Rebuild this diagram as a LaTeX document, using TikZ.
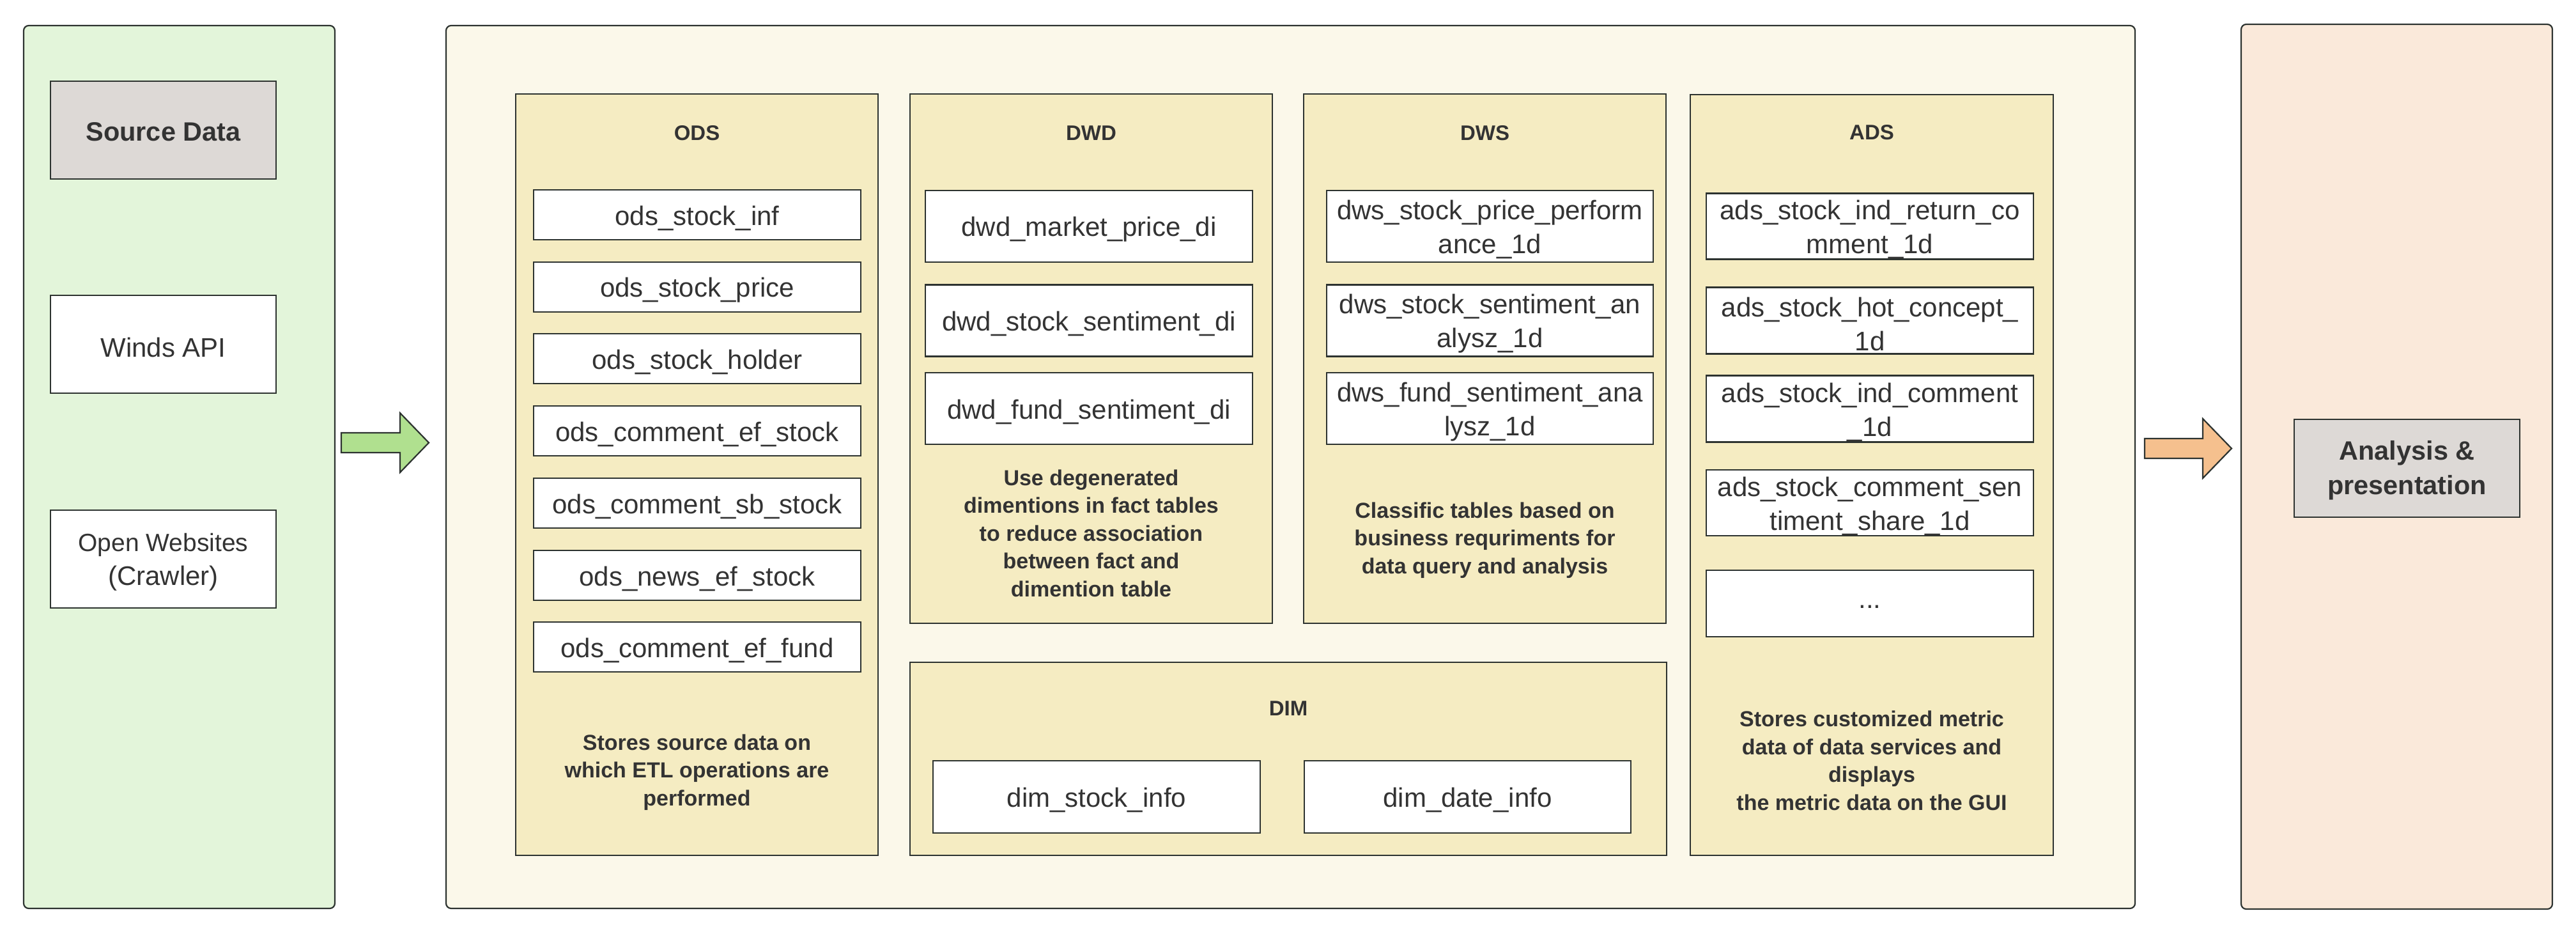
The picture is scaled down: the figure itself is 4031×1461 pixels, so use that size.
\documentclass[tikz,border=0pt]{standalone}
\usepackage{fontspec}
\setmainfont{Liberation Sans}
\definecolor{linec}{HTML}{2D3330}
\definecolor{txt}{HTML}{333333}
\definecolor{greenpanel}{HTML}{E3F5DA}
\definecolor{midpanel}{HTML}{FBF8EA}
\definecolor{rightpanel}{HTML}{FAE9DA}
\definecolor{layerfill}{HTML}{F5ECC2}
\definecolor{grayfill}{HTML}{DDD9D6}
\definecolor{greenarrow}{HTML}{B0E08F}
\definecolor{orangearrow}{HTML}{F5C08E}
\begin{document}
\begin{tikzpicture}[x=1pt,y=-1pt,
  panel/.style={draw=linec, line width=2.2pt, rounded corners=8pt, inner sep=0pt},
  layer/.style={draw=linec, fill=layerfill, line width=2.2pt, inner sep=0pt},
  tbltext/.style={text=txt, font=\fontsize{42}{53}\selectfont, align=center, inner sep=0pt, yshift=-5pt},
  tbl/.style={draw=linec, fill=white, line width=2.2pt, inner sep=0pt, label={[tbltext]center:{#1}}},
  graytext/.style={text=txt, font=\fontsize{41.5}{54}\selectfont\bfseries, align=center, inner sep=0pt, yshift=-3pt},
  graybox/.style={draw=linec, fill=grayfill, line width=2.2pt, inner sep=0pt, label={[graytext]center:{#1}}},
  ttl/.style={text=txt, font=\fontsize{33}{40}\selectfont\bfseries, inner sep=0pt},
  desc/.style={text=txt, font=\fontsize{34}{43.5}\selectfont\bfseries, align=center, inner sep=0pt},
  blockarrow/.style={draw=linec, line width=2.2pt, line join=miter}
]
\useasboundingbox[fill=white] (0,0) rectangle (4031,1461);

% outer panels
\node[panel, fill=greenpanel, minimum width=487pt, minimum height=1381pt] (src) at (280.5,730.5) {};
\node[panel, fill=midpanel, minimum width=2643pt, minimum height=1381pt] (dw) at (2019.5,730.5) {};
\node[panel, fill=rightpanel, minimum width=487pt, minimum height=1384pt] (app) at (3750.5,730) {};

% source column
\node[graybox={Source Data}, minimum width=353pt, minimum height=153pt] (sd) at (255.5,203.5) {};
\node[tbl={Winds API}, minimum width=353pt, minimum height=153pt] (wind) at (255.5,538.5) {};
\node[tbl={\fontsize{39}{49}\selectfont Open Websites\\(Crawler)}, minimum width=353pt, minimum height=153pt] (web) at (255.5,874.5) {};

% layers
\node[layer, minimum width=567pt, minimum height=1191pt] (ods) at (1090.5,742.5) {};
\node[layer, minimum width=567pt, minimum height=828pt] (dwd) at (1707.5,561) {};
\node[layer, minimum width=567pt, minimum height=828pt] (dws) at (2323.5,561) {};
\node[layer, minimum width=1184pt, minimum height=302pt] (dim) at (2016,1187) {};
\node[layer, minimum width=568pt, minimum height=1190pt] (ads) at (2929,743) {};

% titles
\node[ttl] (odst) at (1090.5,208) {ODS};
\node[ttl] (dwdt) at (1707.5,208) {DWD};
\node[ttl] (dwst) at (2323.5,208) {DWS};
\node[ttl] (dimt) at (2016,1108) {DIM};
\node[ttl] (adst) at (2929,207) {ADS};

% ODS tables
\node[tbl={ods\_stock\_inf}, minimum width=512pt, minimum height=78pt] (o1) at (1091,336) {};
\node[tbl={ods\_stock\_price}, minimum width=512pt, minimum height=78pt] (o2) at (1091,449) {};
\node[tbl={ods\_stock\_holder}, minimum width=512pt, minimum height=78pt] (o3) at (1091,561) {};
\node[tbl={ods\_comment\_ef\_stock}, minimum width=512pt, minimum height=78pt] (o4) at (1091,674) {};
\node[tbl={ods\_comment\_sb\_stock}, minimum width=512pt, minimum height=78pt] (o5) at (1091,787) {};
\node[tbl={ods\_news\_ef\_stock}, minimum width=512pt, minimum height=78pt] (o6) at (1091,900) {};
\node[tbl={ods\_comment\_ef\_fund}, minimum width=512pt, minimum height=78pt] (o7) at (1091,1012) {};
\node[desc] (odsd) at (1090.5,1208) {Stores source data on\\which ETL operations are\\performed};

% DWD tables
\node[tbl={dwd\_market\_price\_di}, minimum width=512pt, minimum height=112pt] (d1) at (1704,354) {};
\node[tbl={dwd\_stock\_sentiment\_di}, minimum width=512pt, minimum height=112pt] (d2) at (1704,501.5) {};
\node[tbl={dwd\_fund\_sentiment\_di}, minimum width=512pt, minimum height=112pt] (d3) at (1704,639) {};
\node[desc] (dwdd) at (1707.5,834) {Use degenerated\\dimentions in fact tables\\to reduce association\\between fact and\\dimention table};

% DWS tables
\node[tbl={dws\_stock\_price\_perform\\ance\_1d}, minimum width=511pt, minimum height=112pt] (s1) at (2331.5,354) {};
\node[tbl={dws\_stock\_sentiment\_an\\alysz\_1d}, minimum width=511pt, minimum height=112pt] (s2) at (2331.5,501.5) {};
\node[tbl={dws\_fund\_sentiment\_ana\\lysz\_1d}, minimum width=511pt, minimum height=112pt] (s3) at (2331.5,639) {};
\node[desc] (dwsd) at (2323.5,845) {Classific tables based on\\business requriments for\\data query and analysis};

% DIM tables
\node[tbl={dim\_stock\_info}, minimum width=512pt, minimum height=113pt] (m1) at (1716,1246.5) {};
\node[tbl={dim\_date\_info}, minimum width=511pt, minimum height=113pt] (m2) at (2296.5,1246.5) {};

% ADS tables
\node[tbl={ads\_stock\_ind\_return\_co\\mment\_1d}, minimum width=512pt, minimum height=103pt] (a1) at (2926,354) {};
\node[tbl={ads\_stock\_hot\_concept\_\\1d}, minimum width=512pt, minimum height=104pt] (a2) at (2926,501.5) {};
\node[tbl={ads\_stock\_ind\_comment\\\_1d}, minimum width=512pt, minimum height=104pt] (a3) at (2926,639.5) {};
\node[tbl={ads\_stock\_comment\_sen\\timent\_share\_1d}, minimum width=512pt, minimum height=103pt] (a4) at (2926,786.5) {};
\node[tbl={...}, minimum width=512pt, minimum height=104pt] (a5) at (2926,944) {};
\node[desc] (adsd) at (2929,1190) {Stores customized metric\\data of data services and\\displays\\the metric data on the GUI};

% presentation
\node[graybox={Analysis \&\\presentation}, minimum width=353pt, minimum height=153pt] (ana) at (3766.5,732.5) {};

% block arrows between panels
\draw[blockarrow, fill=greenarrow] (534,677) -- (626,677) -- (626,646) -- (671,692.5) -- (626,739) -- (626,708) -- (534,708) -- cycle;
\draw[blockarrow, fill=orangearrow] (3356,686) -- (3447,686) -- (3447,655) -- (3492,701.5) -- (3447,748) -- (3447,717) -- (3356,717) -- cycle;
\end{tikzpicture}
\end{document}
